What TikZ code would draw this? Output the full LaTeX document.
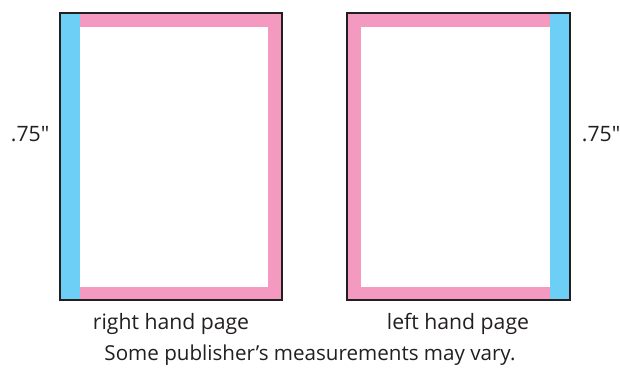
\documentclass[tikz,border=0pt]{standalone}
\usepackage{fontspec}
\setmainfont{Open Sans}
\definecolor{mblue}{HTML}{6DCFF6}
\definecolor{mpink}{HTML}{F49AC1}
\definecolor{mline}{HTML}{231F20}
\begin{document}
\begin{tikzpicture}[x=1pt,y=-1pt,
  pageframe/.style={draw=mline,line width=1.5pt},
  lbl/.style={font=\fontsize{21.2}{24}\selectfont,text=mline,inner sep=0pt},
  notetext/.style={font=\fontsize{20.6}{24}\selectfont,text=mline,inner sep=0pt}]
\useasboundingbox (0,0) rectangle (620,374);
% left (right hand) page
\fill[mpink] (80,13) rectangle (282,27);
\fill[mpink] (268,13) rectangle (282,300);
\fill[mpink] (80,287) rectangle (282,300);
\fill[mblue] (60,13) rectangle (80,300);
\draw[pageframe] (60,13) rectangle (282,300);
% right (left hand) page
\fill[mpink] (347,13) rectangle (550,27);
\fill[mpink] (347,13) rectangle (361,300);
\fill[mpink] (347,287) rectangle (550,300);
\fill[mblue] (550,13) rectangle (570,300);
\draw[pageframe] (347,13) rectangle (570,300);
% labels
\node[lbl] (ml) at (30,134) {.75″};
\node[lbl] (mr) at (601,134) {.75″};
\node[lbl] (rp) at (171,324) {right hand page};
\node[lbl] (lp) at (458,324) {left hand page};
\node[notetext] (note) at (310,355) {Some publisher’s measurements may vary.};
\end{tikzpicture}
\end{document}
